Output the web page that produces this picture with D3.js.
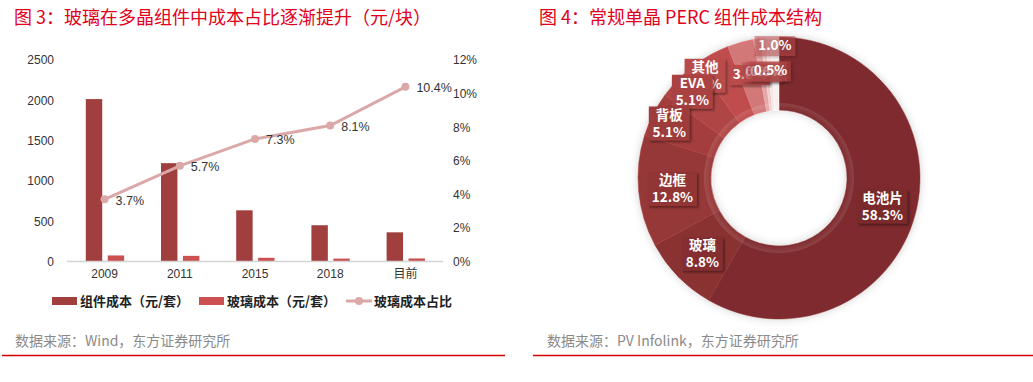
<!DOCTYPE html>
<html>
<head>
<meta charset="utf-8">
<script src="https://cdn.jsdelivr.net/npm/d3@7"></script>
<style>
  body { margin: 0; background: #fff; }
  svg { display: block; }
  text { font-family: "Liberation Sans", Arial, "Noto Sans CJK SC", sans-serif; }
  .cjk { font-family: "Noto Sans CJK SC", "Liberation Sans", sans-serif; }
</style>
</head>
<body>
<div id="chart"></div>
<script>
// fig 3 data
const years = ["2009", "2011", "2015", "2018", "目前"];
const moduleCost = [2015, 1220, 635, 450, 362];
const glassCost = [75, 70, 46, 36, 38];
const glassShare = [0.037, 0.057, 0.073, 0.081, 0.104];
const leftTicks = [0, 500, 1000, 1500, 2000, 2500];
const rightTicks = [0, 0.02, 0.04, 0.06, 0.08, 0.1, 0.12];
const legendNames = ["组件成本（元/套）", "玻璃成本（元/套）", "玻璃成本占比"];

// fig 4 data
const parts = ["电池片", "玻璃", "边框", "背板", "EVA", "其他", "接线盒", "焊带", "硅胶", "包装", "其它辅材"];
const partShare = [58.3, 8.8, 12.8, 5.1, 5.1, 4.0, 3.0, 0.8, 0.6, 0.5, 1.0];
const partColors = ["#7e2c2e", "#8a3133", "#973737", "#a43d3d", "#b04444", "#c04e4e",
                    "#d27878", "#e3a9a9", "#efcdcd", "#f7e5e5", "#fbeeee"];

const W = 1033, H = 382;
const svg = d3.select("#chart").append("svg").attr("width", W).attr("height", H);

const defs = svg.append("defs");
const sh = defs.append("filter").attr("id", "shadow").attr("x", "-30%").attr("y", "-30%").attr("width", "160%").attr("height", "160%");
sh.append("feDropShadow").attr("dx", 1.5).attr("dy", 1.5).attr("stdDeviation", 1.2)
  .attr("flood-color", "#000").attr("flood-opacity", 0.45);
const sh2 = defs.append("filter").attr("id", "dshadow").attr("x", "-20%").attr("y", "-20%").attr("width", "140%").attr("height", "140%");
sh2.append("feDropShadow").attr("dx", 0).attr("dy", 0).attr("stdDeviation", 4)
  .attr("flood-color", "#000").attr("flood-opacity", 0.18);

// titles
svg.append("text").attr("class", "cjk").attr("x", 14).attr("y", 24)
  .attr("font-size", 18).attr("fill", "#e3001b")
  .text("图 3：玻璃在多晶组件中成本占比逐渐提升（元/块）");
svg.append("text").attr("class", "cjk").attr("x", 539).attr("y", 24)
  .attr("font-size", 18).attr("fill", "#e3001b")
  .text("图 4：常规单晶 PERC 组件成本结构");

// ---------- left: bar + line ----------
const x = d3.scaleBand().domain(years).range([67, 443]);
const bw = x.bandwidth();
const x1 = d3.scaleBand().domain(["m", "g"]).range([bw * 0.25, bw * 0.76]).paddingInner(0.25);
const y = d3.scaleLinear().domain([0, 2500]).range([261.5, 60]);
const y2 = d3.scaleLinear().domain([0, 0.12]).range([261.5, 60]);

const yAxis = d3.axisLeft(y).tickValues(leftTicks).tickSize(0).tickPadding(0).tickFormat(d3.format("d"));
const gy = svg.append("g").attr("transform", "translate(54,0)").call(yAxis);
gy.select(".domain").remove();
gy.selectAll("text").attr("font-size", 12).attr("fill", "#333")
  .attr("font-family", "Liberation Sans, Arial, sans-serif");

const yAxis2 = d3.axisRight(y2).tickValues(rightTicks).tickSize(0).tickPadding(0)
  .tickFormat(d3.format(".0%"));
const gy2 = svg.append("g").attr("transform", "translate(453,0)").call(yAxis2);
gy2.select(".domain").remove();
gy2.selectAll("text").attr("font-size", 12).attr("fill", "#333")
  .attr("font-family", "Liberation Sans, Arial, sans-serif");

const bars = svg.append("g");
bars.selectAll("rect.m").data(years).join("rect").attr("class", "m")
  .attr("x", d => x(d) + x1("m")).attr("width", x1.bandwidth())
  .attr("y", (d, i) => y(moduleCost[i])).attr("height", (d, i) => y(0) - y(moduleCost[i]))
  .attr("fill", "#a13f3e");
bars.selectAll("rect.g").data(years).join("rect").attr("class", "g")
  .attr("x", d => x(d) + x1("g")).attr("width", x1.bandwidth())
  .attr("y", (d, i) => y(glassCost[i])).attr("height", (d, i) => y(0) - y(glassCost[i]))
  .attr("fill", "#cc5050");

// baseline
svg.append("line").attr("x1", 67).attr("x2", 443).attr("y1", y(0)).attr("y2", y(0))
  .attr("stroke", "#d4d4d4").attr("stroke-width", 1.5);

const xAxis = d3.axisBottom(x).tickSize(0).tickPadding(0);
const gx = svg.append("g").attr("transform", "translate(0,270)").call(xAxis);
gx.select(".domain").remove();
gx.selectAll("text").attr("font-size", 12).attr("fill", "#333").attr("dy", "0.7em");

const cx = d => x(d) + bw / 2;
const lineGen = d3.line().x((d, i) => cx(years[i])).y(d => y2(d));
svg.append("path").datum(glassShare).attr("d", lineGen)
  .attr("fill", "none").attr("stroke", "#dba8a8").attr("stroke-width", 3);
svg.append("g").selectAll("circle").data(glassShare).join("circle")
  .attr("cx", (d, i) => cx(years[i])).attr("cy", d => y2(d)).attr("r", 4)
  .attr("fill", "#dba8a8");
svg.append("g").selectAll("text").data(glassShare).join("text")
  .attr("x", (d, i) => cx(years[i]) + 11).attr("y", d => y2(d) + 5.5)
  .attr("font-size", 12.5).attr("fill", "#333")
  .text(d => d3.format(".1%")(d));

// legend
const lg = svg.append("g").attr("transform", "translate(0,301)");
const legX = [52, 199, 346];
const legFill = ["#a13f3e", "#cc5050", "#dba8a8"];
legendNames.forEach((n, i) => {
  if (i < 2) {
    lg.append("rect").attr("x", legX[i]).attr("y", -4).attr("width", 25).attr("height", 8).attr("fill", legFill[i]);
  } else {
    lg.append("line").attr("x1", legX[i]).attr("x2", legX[i] + 26).attr("stroke", legFill[i]).attr("stroke-width", 3);
    lg.append("circle").attr("cx", legX[i] + 13).attr("r", 4).attr("fill", legFill[i]);
  }
  lg.append("text").attr("class", "cjk").attr("x", legX[i] + 28).attr("y", 5)
    .attr("font-size", 13).attr("font-weight", "bold").attr("fill", "#222").text(n);
});

// ---------- right: donut ----------
const C = [779, 178];
const R = 141, r0 = 68;
const pie = d3.pie().sort(null).value(d => d);
const arcs = pie(partShare);
const arc = d3.arc().innerRadius(r0).outerRadius(R);
const dg = svg.append("g").attr("transform", `translate(${C[0]},${C[1]})`);
const ringG = dg.append("g").attr("filter", "url(#dshadow)");
ringG.selectAll("path").data(arcs).join("path")
  .attr("d", arc).attr("fill", (d, i) => partColors[i])
  .attr("stroke", (d, i) => d3.color(partColors[i]).brighter(0.25)).attr("stroke-width", 0.5);

// soft inner rim shading
const rg = defs.append("radialGradient").attr("id", "rim");
rg.append("stop").attr("offset", "0.9").attr("stop-color", "#fff").attr("stop-opacity", 0);
rg.append("stop").attr("offset", "1").attr("stop-color", "#fff").attr("stop-opacity", 0.12);
dg.append("circle").attr("r", r0 + 7).attr("fill", "url(#rim)");

const last = partShare.length - 1;
const labelR = (d, i) => i === last ? 133 : i === 5 ? 127 : d.data < 3.5 ? 108 : d.data < 8 ? 123 : 107;
// label angle: "其他" sits on its leading edge like the original
const labelA = (d, i) => i === 5 ? d.startAngle : (d.startAngle + d.endAngle) / 2;
const order = [last, 6, 7, 8, 9, 5, 4, 3, 2, 1, 0];
const labels = dg.append("g");
order.forEach(i => {
  const d = arcs[i];
  const a = labelA(d, i);
  const rr = labelR(d, i);
  const lx = rr * Math.sin(a), ly = -rr * Math.cos(a);
  const two = i <= 5;
  const lines = two ? [parts[i], d3.format(".1f")(partShare[i]) + "%"] : [d3.format(".1f")(partShare[i]) + "%"];
  const g = labels.append("g").attr("transform", `translate(${lx},${ly})`);
  const wTxt = Math.max(...lines.map(s => s.length * (/[\u4e00-\u9fff]/.test(s) ? 14 : 8.2)));
  const bh = two ? 34 : 20;
  g.append("rect").attr("x", -wTxt / 2 - 4).attr("y", -bh / 2 + 1).attr("width", wTxt + 8).attr("height", bh)
    .attr("fill", d3.color(partColors[Math.min(i, 5)]).darker(0.1)).attr("fill-opacity", i > 6 ? 0.5 : 1)
    .attr("filter", "url(#shadow)");
  lines.forEach((s, k) => {
    g.append("text").attr("class", "cjk").attr("text-anchor", "middle")
      .attr("y", two ? (k === 0 ? -3 : 14) : 5)
      .attr("font-size", 13.5).attr("font-weight", "bold").attr("fill", "#fff").text(s);
  });
});

// sources + rules
svg.append("text").attr("class", "cjk").attr("x", 15).attr("y", 346)
  .attr("font-size", 14).attr("fill", "#8a8a8a").text("数据来源：Wind，东方证券研究所");
svg.append("text").attr("class", "cjk").attr("x", 547).attr("y", 346)
  .attr("font-size", 14).attr("fill", "#8a8a8a").text("数据来源：PV Infolink，东方证券研究所");
svg.append("line").attr("x1", 2).attr("x2", 505).attr("y1", 355.5).attr("y2", 355.5)
  .attr("stroke", "#d40000").attr("stroke-width", 1.5);
svg.append("line").attr("x1", 533).attr("x2", 1033).attr("y1", 355.5).attr("y2", 355.5)
  .attr("stroke", "#d40000").attr("stroke-width", 1.5);
</script>
</body>
</html>
